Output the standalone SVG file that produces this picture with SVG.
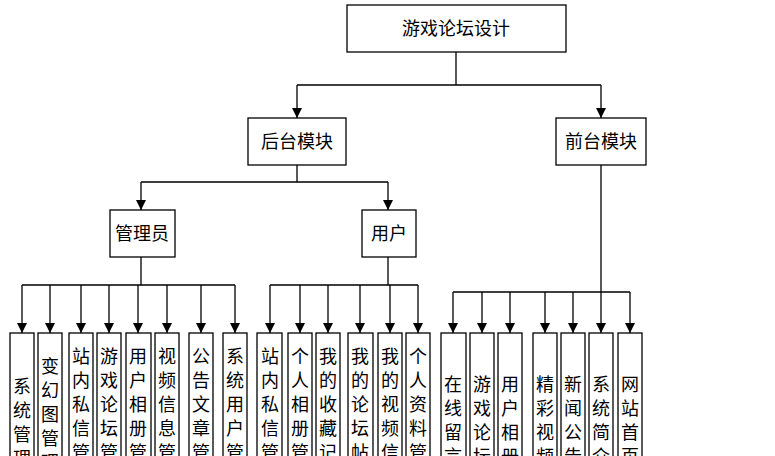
<svg xmlns="http://www.w3.org/2000/svg" width="775" height="456" viewBox="0 0 775 456">
<defs><marker id="a" markerWidth="10" markerHeight="10" refX="10" refY="5" orient="auto" markerUnits="userSpaceOnUse"><path d="M0,0 L10,5 L0,10 z" fill="#000"/></marker></defs>
<style>rect{fill:#fff;stroke:#000;stroke-width:1.3}text{font-family:"Noto Sans CJK SC",sans-serif;font-size:18px;fill:#000;text-anchor:middle}.c line,.c path{stroke:#000;stroke-width:1.3;fill:none}.c .ar{marker-end:url(#a)}</style>
<rect x="0" y="0" width="775" height="456" style="stroke:none"/>
<g class="c">
<path d="M456,52V85M297,85H601"/>
<line class="ar" x1="297" y1="85" x2="297" y2="118"/><line class="ar" x1="601" y1="85" x2="601" y2="118"/>
<path d="M297,165V182M141,182H388"/>
<line class="ar" x1="141" y1="182" x2="141" y2="210"/><line class="ar" x1="388" y1="182" x2="388" y2="210"/>
<path d="M141,257V285M22,285H235M388,257V285M270,285H418M601,165V292M453,292H630"/>
<line class="ar" x1="22" y1="285" x2="22" y2="333"/><line class="ar" x1="50" y1="285" x2="50" y2="333"/><line class="ar" x1="81" y1="285" x2="81" y2="333"/><line class="ar" x1="109" y1="285" x2="109" y2="333"/><line class="ar" x1="138" y1="285" x2="138" y2="333"/><line class="ar" x1="167" y1="285" x2="167" y2="333"/><line class="ar" x1="201" y1="285" x2="201" y2="333"/><line class="ar" x1="235" y1="285" x2="235" y2="333"/>
<line class="ar" x1="270" y1="285" x2="270" y2="333"/><line class="ar" x1="300" y1="285" x2="300" y2="333"/><line class="ar" x1="328" y1="285" x2="328" y2="333"/><line class="ar" x1="360" y1="285" x2="360" y2="333"/><line class="ar" x1="390" y1="285" x2="390" y2="333"/><line class="ar" x1="418" y1="285" x2="418" y2="333"/>
<line class="ar" x1="453" y1="292" x2="453" y2="333"/><line class="ar" x1="482" y1="292" x2="482" y2="333"/><line class="ar" x1="510" y1="292" x2="510" y2="333"/><line class="ar" x1="545" y1="292" x2="545" y2="333"/><line class="ar" x1="573" y1="292" x2="573" y2="333"/><line class="ar" x1="601" y1="292" x2="601" y2="333"/><line class="ar" x1="630" y1="292" x2="630" y2="333"/>
</g>
<g id="root"><rect x="347" y="5" width="219" height="47"/><text x="456" y="35">游戏论坛设计</text></g>
<g id="back"><rect x="248" y="118" width="98" height="47"/><text x="297" y="148">后台模块</text></g>
<g id="front"><rect x="556" y="118" width="90" height="47"/><text x="601" y="148">前台模块</text></g>
<g id="admin"><rect x="110" y="210" width="65" height="47"/><text x="142" y="240">管理员</text></g>
<g id="user"><rect x="362" y="210" width="54" height="47"/><text x="389" y="240">用户</text></g>
<g id="n1"><rect x="10" y="333" width="24" height="140"/><text x="22" y="393">系</text><text x="22" y="417">统</text><text x="22" y="441">管</text><text x="22" y="465">理</text></g>
<g id="n2"><rect x="38" y="333" width="24" height="140"/><text x="50" y="373">变</text><text x="50" y="397">幻</text><text x="50" y="421">图</text><text x="50" y="445">管</text><text x="50" y="469">理</text></g>
<g id="n3"><rect x="69" y="333" width="24" height="140"/><text x="81" y="363">站</text><text x="81" y="387">内</text><text x="81" y="411">私</text><text x="81" y="435">信</text><text x="81" y="459">管</text></g>
<g id="n4"><rect x="97" y="333" width="24" height="140"/><text x="109" y="363">游</text><text x="109" y="387">戏</text><text x="109" y="411">论</text><text x="109" y="435">坛</text><text x="109" y="459">管</text></g>
<g id="n5"><rect x="126" y="333" width="25" height="140"/><text x="138" y="363">用</text><text x="138" y="387">户</text><text x="138" y="411">相</text><text x="138" y="435">册</text><text x="138" y="459">管</text></g>
<g id="n6"><rect x="155" y="333" width="24" height="140"/><text x="167" y="363">视</text><text x="167" y="387">频</text><text x="167" y="411">信</text><text x="167" y="435">息</text><text x="167" y="459">管</text></g>
<g id="n7"><rect x="189" y="333" width="24" height="140"/><text x="201" y="363">公</text><text x="201" y="387">告</text><text x="201" y="411">文</text><text x="201" y="435">章</text><text x="201" y="459">管</text></g>
<g id="n8"><rect x="223" y="333" width="24" height="140"/><text x="235" y="363">系</text><text x="235" y="387">统</text><text x="235" y="411">用</text><text x="235" y="435">户</text><text x="235" y="459">管</text></g>
<g id="n9"><rect x="257" y="333" width="25" height="140"/><text x="270" y="363">站</text><text x="270" y="387">内</text><text x="270" y="411">私</text><text x="270" y="435">信</text><text x="270" y="459">管</text></g>
<g id="n10"><rect x="288" y="333" width="24" height="140"/><text x="300" y="363">个</text><text x="300" y="387">人</text><text x="300" y="411">相</text><text x="300" y="435">册</text><text x="300" y="459">管</text></g>
<g id="n11"><rect x="316" y="333" width="24" height="140"/><text x="328" y="363">我</text><text x="328" y="387">的</text><text x="328" y="411">收</text><text x="328" y="435">藏</text><text x="328" y="459">记</text></g>
<g id="n12"><rect x="348" y="333" width="25" height="140"/><text x="360" y="363">我</text><text x="360" y="387">的</text><text x="360" y="411">论</text><text x="360" y="435">坛</text><text x="360" y="459">帖</text></g>
<g id="n13"><rect x="378" y="333" width="24" height="140"/><text x="390" y="363">我</text><text x="390" y="387">的</text><text x="390" y="411">视</text><text x="390" y="435">频</text><text x="390" y="459">信</text></g>
<g id="n14"><rect x="406" y="333" width="24" height="140"/><text x="418" y="363">个</text><text x="418" y="387">人</text><text x="418" y="411">资</text><text x="418" y="435">料</text><text x="418" y="459">管</text></g>
<g id="n15"><rect x="441" y="333" width="25" height="140"/><text x="453" y="391">在</text><text x="453" y="415">线</text><text x="453" y="439">留</text><text x="453" y="463">言</text></g>
<g id="n16"><rect x="470" y="333" width="24" height="140"/><text x="482" y="391">游</text><text x="482" y="415">戏</text><text x="482" y="439">论</text><text x="482" y="463">坛</text></g>
<g id="n17"><rect x="498" y="333" width="24" height="140"/><text x="510" y="391">用</text><text x="510" y="415">户</text><text x="510" y="439">相</text><text x="510" y="463">册</text></g>
<g id="n18"><rect x="533" y="333" width="24" height="140"/><text x="545" y="391">精</text><text x="545" y="415">彩</text><text x="545" y="439">视</text><text x="545" y="463">频</text></g>
<g id="n19"><rect x="561" y="333" width="24" height="140"/><text x="573" y="391">新</text><text x="573" y="415">闻</text><text x="573" y="439">公</text><text x="573" y="463">告</text></g>
<g id="n20"><rect x="589" y="333" width="24" height="140"/><text x="601" y="391">系</text><text x="601" y="415">统</text><text x="601" y="439">简</text><text x="601" y="463">介</text></g>
<g id="n21"><rect x="618" y="333" width="24" height="140"/><text x="630" y="391">网</text><text x="630" y="415">站</text><text x="630" y="439">首</text><text x="630" y="463">页</text></g>
</svg>
